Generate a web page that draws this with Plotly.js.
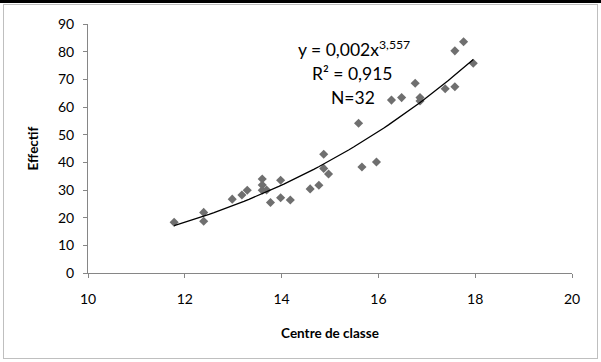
<!DOCTYPE html>
<html>
<head>
<meta charset="utf-8">
<script src="https://cdn.plot.ly/plotly-3.0.1.min.js"></script>
<style>
html,body{margin:0;padding:0;background:#fff;}
#wrap{position:relative;width:601px;height:362px;}
#chart{position:absolute;left:0;top:0;width:601px;height:362px;}
#topbar{position:absolute;left:0;top:0;width:601px;height:3px;background:#000;}
#frame{position:absolute;left:3px;top:4px;width:593px;height:353px;border:1px solid #bfbfbf;pointer-events:none;}
</style>
</head>
<body>
<div id="wrap">
<div id="chart"></div>
<div id="frame"></div>
<div id="topbar"></div>
</div>
<script>
// Data
const centreDeClasse = [11.78, 12.39, 12.39, 12.98, 13.18, 13.29, 13.6, 13.6, 13.6, 13.69,
  13.77, 13.98, 13.98, 14.18, 14.59, 14.77, 14.87, 14.87, 14.97, 15.59,
  15.66, 15.96, 16.27, 16.48, 16.76, 16.86, 16.86, 17.38, 17.58, 17.58,
  17.76, 17.96];
const effectif = [18.3, 21.9, 18.7, 26.7, 28.2, 29.9, 34.0, 31.8, 29.9, 30.0,
  25.5, 33.5, 27.2, 26.4, 30.4, 31.7, 42.9, 37.8, 35.8, 54.1,
  38.3, 40.1, 62.5, 63.4, 68.6, 63.4, 62.2, 66.6, 67.3, 80.3,
  83.6, 75.8];
const xTicks = [10, 12, 14, 16, 18, 20];
const yTicks = [0, 10, 20, 30, 40, 50, 60, 70, 80, 90];
const equationText = 'y = 0,002x<sup>3,557</sup>';
const r2Text = 'R² = 0,915';
const nText = 'N=32';

// Power trendline (least squares on ln-ln, as a spreadsheet does)
const lx = centreDeClasse.map(Math.log), ly = effectif.map(Math.log);
const n = lx.length;
const mx = lx.reduce((a,b)=>a+b,0)/n, my = ly.reduce((a,b)=>a+b,0)/n;
let sxy=0, sxx=0;
for (let i=0;i<n;i++){ sxy += (lx[i]-mx)*(ly[i]-my); sxx += (lx[i]-mx)*(lx[i]-mx); }
const b = sxy/sxx, a = Math.exp(my - b*mx);
const xmin = Math.min(...centreDeClasse), xmax = Math.max(...centreDeClasse);
const tx = [], ty = [];
for (let k=0;k<=60;k++){ const x = xmin + (xmax-xmin)*k/60; tx.push(x); ty.push(a*Math.pow(x,b)); }

const font = 'Lato, "Open Sans", sans-serif';
const data = [
  {x: centreDeClasse, y: effectif, type:'scatter', mode:'markers',
   marker:{symbol:'diamond', size:7, color:'#6f6f6f'}, hoverinfo:'skip'},
  {x: tx, y: ty, type:'scatter', mode:'lines', line:{color:'#000', width:1.3}, hoverinfo:'skip'}
];
const layout = {
  width:601, height:362, showlegend:false,
  margin:{l:88, r:29, t:24, b:89},
  paper_bgcolor:'#fff', plot_bgcolor:'#fff',
  font:{family:font, size:14, color:'#000'},
  xaxis:{range:[10,20], tickvals:xTicks, ticktext:xTicks.map(String), showgrid:false, zeroline:false,
    showline:true, linecolor:'#868686', linewidth:1, ticks:'outside', ticklen:4, tickcolor:'#868686',
    ticklabelstandoff:9,
    tickfont:{family:font, size:14}, title:{text:'<b>Centre de classe</b>', font:{family:font, size:13.5}, standoff:22}},
  yaxis:{range:[0,90], tickvals:yTicks, ticktext:yTicks.map(String), showgrid:false, zeroline:false,
    showline:true, linecolor:'#868686', linewidth:1, ticks:'outside', ticklen:4, tickcolor:'#868686',
    ticklabelstandoff:6,
    tickfont:{family:font, size:14}, title:{text:'<b>Effectif</b>', font:{family:font, size:13.5}, standoff:16}},
  annotations:[
    {x:15.5, y:81.0, xref:'x', yref:'y', text:equationText, showarrow:false, font:{family:font, size:17.5}, xanchor:'center', yanchor:'middle'},
    {x:15.47, y:72.2, xref:'x', yref:'y', text:r2Text, showarrow:false, font:{family:font, size:17.5}, xanchor:'center', yanchor:'middle'},
    {x:15.47, y:63.6, xref:'x', yref:'y', text:nText, showarrow:false, font:{family:font, size:17.5}, xanchor:'center', yanchor:'middle'}
  ]
};
Plotly.newPlot('chart', data, layout, {staticPlot:true, displayModeBar:false});
</script>
</body>
</html>
